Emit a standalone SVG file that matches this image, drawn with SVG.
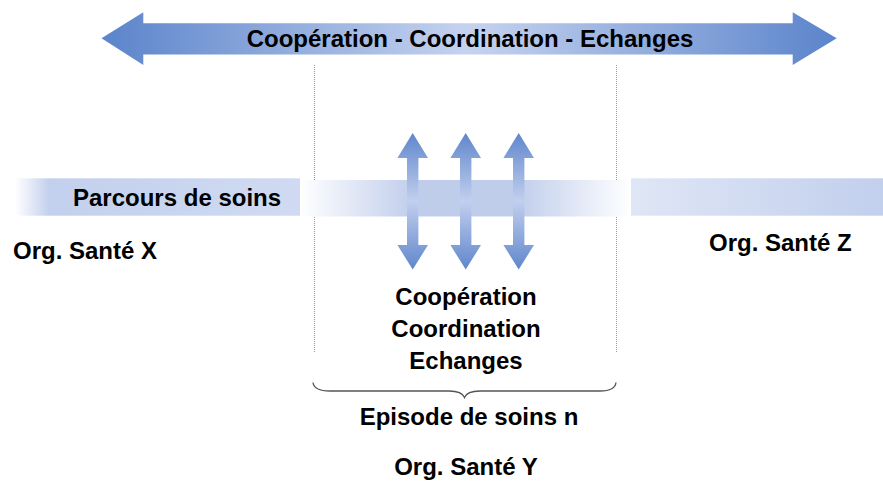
<svg xmlns="http://www.w3.org/2000/svg" width="883" height="484" viewBox="0 0 883 484">
<defs>
<linearGradient id="gTop" x1="0" y1="0" x2="1" y2="0">
<stop offset="0" stop-color="#5b84cb"/>
<stop offset="0.5" stop-color="#c6d3ef"/>
<stop offset="1" stop-color="#5b84cb"/>
</linearGradient>
<linearGradient id="gV" x1="0" y1="0" x2="0" y2="1">
<stop offset="0" stop-color="#5f86cc"/>
<stop offset="0.5" stop-color="#c2cfee"/>
<stop offset="1" stop-color="#5f86cc"/>
</linearGradient>
<linearGradient id="gLeft" x1="15" y1="0" x2="300" y2="0" gradientUnits="userSpaceOnUse">
<stop offset="0" stop-color="#ffffff"/>
<stop offset="0.12" stop-color="#c3d0ed"/>
<stop offset="1" stop-color="#d0daf2"/>
</linearGradient>
<linearGradient id="gMid" x1="300" y1="0" x2="631" y2="0" gradientUnits="userSpaceOnUse">
<stop offset="0" stop-color="#ffffff"/>
<stop offset="0.35" stop-color="#bfcdeb"/>
<stop offset="0.65" stop-color="#bfcdeb"/>
<stop offset="1" stop-color="#ffffff"/>
</linearGradient>
<linearGradient id="gRight" x1="631" y1="0" x2="883" y2="0" gradientUnits="userSpaceOnUse">
<stop offset="0" stop-color="#dfe6f5"/>
<stop offset="1" stop-color="#c2cfed"/>
</linearGradient>
</defs>
<style>
text{font-family:"Liberation Sans",Arial,sans-serif;font-weight:bold;font-size:24px;fill:#000;}
.c{text-anchor:middle;}
.dot{stroke:#9a9a9a;stroke-width:1;stroke-dasharray:1 1;fill:none;}
.brace{stroke:#555;stroke-width:1.3;fill:none;}
.varrow{fill:url(#gV);}
</style>
<g id="guides">
<line class="dot" x1="314.5" y1="65" x2="314.5" y2="353"/>
<line class="dot" x1="616.5" y1="65" x2="616.5" y2="353"/>
</g>
<g id="top-arrow">
<path d="M101.5,38.3 L143.3,12.3 L143.3,23.3 L792.7,23.3 L792.7,12.3 L836.7,38.3 L792.7,65 L792.7,54.5 L143.3,54.5 L143.3,65 Z" fill="url(#gTop)"/>
<text class="c" x="470" y="47">Coopération - Coordination - Echanges</text>
</g>
<g id="parcours">
<rect x="15" y="178.3" width="285" height="37.4" fill="url(#gLeft)"/>
<rect x="300" y="180" width="331" height="36.5" fill="url(#gMid)"/>
<rect x="631" y="178.3" width="252" height="37.4" fill="url(#gRight)"/>
<text x="73" y="206">Parcours de soins</text>
</g>
<g id="connectors">
<path class="varrow" d="M412.7,133 L428,158 L418.4,158 L418.4,245 L428,245 L412.7,269.5 L397.4,245 L407,245 L407,158 L397.4,158 Z"/>
<path class="varrow" d="M465.7,133 L481,158 L471.4,158 L471.4,245 L481,245 L465.7,269.5 L450.4,245 L460,245 L460,158 L450.4,158 Z"/>
<path class="varrow" d="M518.7,133 L534,158 L524.4,158 L524.4,245 L534,245 L518.7,269.5 L503.4,245 L513,245 L513,158 L503.4,158 Z"/>
</g>
<g id="org-x">
<text x="13" y="259">Org. Santé X</text>
</g>
<g id="org-z">
<text x="709" y="251">Org. Santé Z</text>
</g>
<g id="episode">
<text class="c" x="466" y="305">Coopération</text>
<text class="c" x="466" y="337">Coordination</text>
<text class="c" x="466" y="369">Echanges</text>
<path class="brace" d="M313,382.5 Q314,391 330,391 L449,391 Q462,391 464.5,397.5 Q467,391 480,391 L600,391 Q615,391 616,382.5"/>
<text class="c" x="469" y="425">Episode de soins n</text>
</g>
<g id="org-y">
<text class="c" x="466" y="475">Org. Santé Y</text>
</g>
</svg>
